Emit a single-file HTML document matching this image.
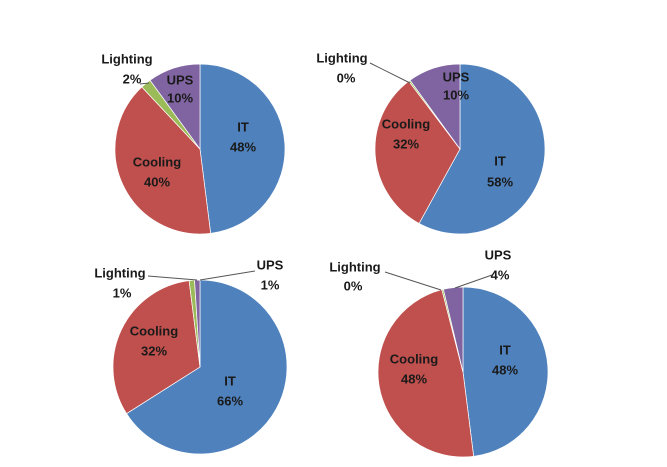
<!DOCTYPE html>
<html><head><meta charset="utf-8"><style>
html,body{margin:0;padding:0;background:#fff}
svg text{font-family:"Liberation Sans",sans-serif;font-weight:bold;font-size:13px;fill:#1a1a1a;text-anchor:middle;dominant-baseline:middle}
</style></head><body>
<svg id="s" width="667" height="462" xmlns="http://www.w3.org/2000/svg"></svg>
<script>
const cols=["#4f81bd","#c0504d","#9bbb59","#8064a2"];
const pies=[
 {cx:200,cy:149,r:85,v:[48,40,2,10]},
 {cx:460,cy:149,r:85,v:[58,31.7,0.3,10]},
 {cx:200,cy:367,r:87,v:[66,32,1,1]},
 {cx:463,cy:372,r:85,v:[48,48,0.3,3.7]}
];
let h="";
for(const p of pies){let a=0;p.v.forEach((v,i)=>{const a0=a/100*2*Math.PI,a1=(a+v)/100*2*Math.PI;a+=v;
 const x0=p.cx+p.r*Math.sin(a0),y0=p.cy-p.r*Math.cos(a0),x1=p.cx+p.r*Math.sin(a1),y1=p.cy-p.r*Math.cos(a1);
 h+=`<path d="M${p.cx},${p.cy}L${x0},${y0}A${p.r},${p.r} 0 ${v>50?1:0} 1 ${x1},${y1}Z" fill="${cols[i]}" stroke="#fff" stroke-width="0.7"/>`;});}
const L=[[243,128,"IT"],[243,148,"48%"],[157,163,"Cooling"],[157,183,"40%"],[180,81,"UPS"],[180,99,"10%"],[127,60,"Lighting"],[132,80,"2%"],
[342,59,"Lighting"],[346,79,"0%"],[456,78,"UPS"],[456,96,"10%"],[406,125,"Cooling"],[406,145,"32%"],[500,162,"IT"],[500,183,"58%"],
[120,274,"Lighting"],[122,294,"1%"],[270,266,"UPS"],[270,286,"1%"],[154,332,"Cooling"],[154,352,"32%"],[230,382,"IT"],[230,402,"66%"],
[355,268,"Lighting"],[353,287,"0%"],[498,256,"UPS"],[500,276,"4%"],[414,360,"Cooling"],[414,380,"48%"],[505,351,"IT"],[505,371,"48%"]];
const ln=[[140,84,149,83],[370,63,410,83],[148,276,197,280],[255,271,200,280],[385,272,441,290],[492,275,455,288]];
for(const l of ln)h+=`<line x1="${l[0]}" y1="${l[1]}" x2="${l[2]}" y2="${l[3]}" stroke="#555" stroke-width="1"/>`;
for(const t of L)h+=`<text x="${t[0]}" y="${t[1]}">${t[2]}</text>`;
document.getElementById("s").innerHTML=h;
</script>
</body></html>
